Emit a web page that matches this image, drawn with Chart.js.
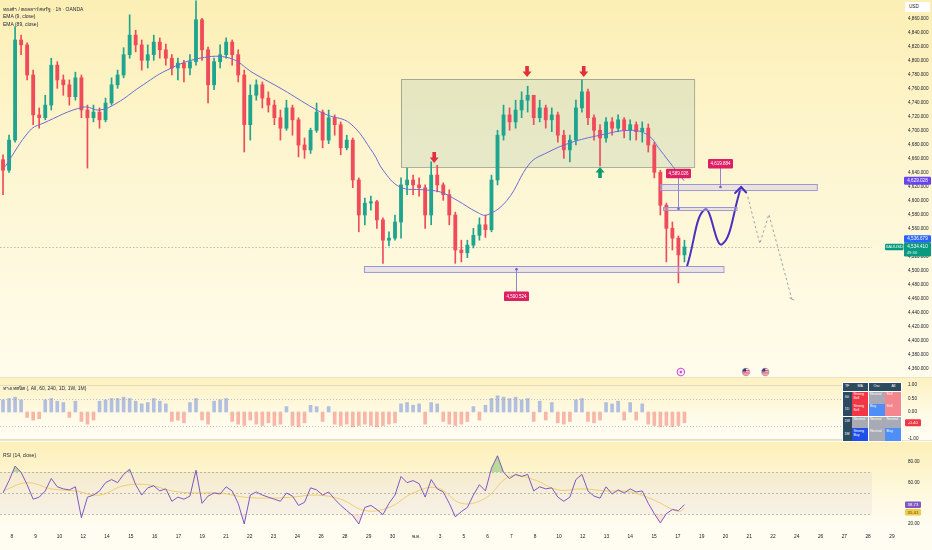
<!DOCTYPE html>
<html><head><meta charset="utf-8">
<script src="https://cdn.jsdelivr.net/npm/chart.js@4.4.1/dist/chart.umd.min.js"></script>
<style>
html,body{margin:0;padding:0;}
body{width:932px;height:550px;overflow:hidden;position:relative;background:#fffdf0;font-family:"Liberation Sans","Noto Sans","DejaVu Sans",sans-serif;color:#131722;}
.pane{position:absolute;left:0;width:932px;}
#p1{top:0;height:377px;background:linear-gradient(180deg,#fcefb5 0%,#fdf5cf 40%,#fffcec 100%);}
#p2{top:377px;height:65px;background:linear-gradient(180deg,#fcf1c0 0%,#fffbe8 60%,#fffdf4 100%);}
#p3{top:442px;height:108px;background:linear-gradient(180deg,#fcefb8 0%,#fef8dc 45%,#fffdf2 80%,#fffdf2 100%);}
.sep{position:absolute;left:0;width:932px;height:1px;background:#ebe3c3;}
.t{position:absolute;font-size:5px;white-space:nowrap;line-height:1;color:#1e222d;}
#usd{position:absolute;left:905px;top:2px;width:25px;height:10px;background:#fff;font-size:4.6px;line-height:10px;text-indent:4px;color:#131722;}
#tbl{position:absolute;left:842px;top:382px;display:grid;grid-template-columns:9px 16px 16px 16px;grid-template-rows:8.5px 12px 12px 11px 12.5px;gap:0.6px;background:#fff;padding:0.6px;}
.c{font-size:3.6px;color:#fff;display:flex;align-items:flex-start;justify-content:flex-start;padding:1.2px 0 0 1.2px;line-height:1.1;box-sizing:border-box;}
.h{background:#2d4b5f;justify-content:center;align-items:center;padding:0;}
.ss{background:#f23645;}
.se{background:#f4878e;}
.nu{background:#a8abb5;}
.bu{background:#4f8ef7;}
.sb{background:#1f4fe6;}
</style></head>
<body>
<div class="pane" id="p1"><canvas id="c1"></canvas></div>
<div class="pane" id="p2"><canvas id="c2"></canvas></div>
<div class="pane" id="p3"><canvas id="c3"></canvas></div>
<div class="sep" style="top:377px"></div>
<div class="sep" style="top:440px"></div>

<div class="t" style="left:3px;top:6.5px">ทองคำ / ดอลลาร์สหรัฐ · 1h · OANDA</div>
<div class="t" style="left:3px;top:14px">EMA (9, close)</div>
<div class="t" style="left:3px;top:22px">EMA (89, close)</div>
<div id="usd">USD</div>
<div class="t" style="left:3px;top:386px">ทางเทคนิค (, All, 60, 240, 1D, 1W, 1M)</div>
<div class="t" style="left:3px;top:452.5px">RSI (14, close)</div>

<div id="tbl">
 <div class="c h">TF</div><div class="c h">MA</div><div class="c h">Osc</div><div class="c h">All</div>
 <div class="c h">60</div><div class="c ss">Strong<br>Sell</div><div class="c nu">Neutral</div><div class="c se">Sell</div>
 <div class="c h">1D</div><div class="c ss">Strong<br>Sell</div><div class="c bu">Buy</div><div class="c se">Sell</div>
 <div class="c h">1W</div><div class="c nu">Neutral</div><div class="c nu">Neutral</div><div class="c nu">Neutral</div>
 <div class="c h">1M</div><div class="c sb">Strong<br>Buy</div><div class="c nu">Neutral</div><div class="c bu">Buy</div>
</div>

<script>
// ---------------- DATA ----------------
const xLabels = ['8','9','10','12','14','15','16','17','19','21','22','23','24','26','28','29','30','พ.ค.','3','5','6','7','8','10','12','13','14','15','17','19','20','21','22','24','26','27','28','29'];
const priceTicks = [4360,4380,4400,4420,4440,4460,4480,4500,4520,4540,4560,4580,4600,4620,4640,4660,4680,4700,4720,4740,4760,4780,4800,4820,4840,4860];
const techTicks = [1, 0.5, 0, -1];
const rsiTicks = [80, 60, 20];

const firstOpen = 4659;
const closes = [4644,4687,4830,4823,4780,4723,4719,4737,4794,4773,
 4766,4749,4776,4730,4719,4727,4716,4740,4766,4780,
 4809,4837,4823,4801,4809,4827,4816,4804,4790,4797,
 4790,4799,4859,4816,4766,4799,4809,4827,4809,4780,
 4709,4751,4766,4747,4737,4719,4704,4733,4716,4680,
 4673,4701,4727,4687,4719,4709,4676,4687,4630,4580,
 4597,4599,4573,4544,4547,4570,4623,4630,4623,4619,
 4580,4637,4623,4609,4580,4530,4526,4537,4551,4566,
 4559,4630,4694,4723,4713,4730,4744,4751,4719,4733,
 4716,4723,4694,4673,4687,4733,4756,4719,4701,4690,
 4713,4704,4716,4701,4709,4699,4704,4680,4641,4594,
 4561,4547,4523,4534.41];
const highs = [4666,4694,4849,4837,4826,4787,4733,4751,4804,4799,
 4780,4773,4784,4780,4737,4737,4733,4747,4776,4787,
 4819,4866,4844,4830,4823,4837,4833,4824,4809,4804,
 4801,4809,4886,4861,4820,4804,4823,4833,4830,4816,
 4787,4766,4773,4770,4756,4744,4730,4744,4737,4719,
 4690,4704,4740,4730,4730,4723,4713,4694,4690,4633,
 4604,4607,4601,4576,4556,4580,4633,4647,4637,4633,
 4623,4656,4651,4626,4616,4584,4544,4544,4561,4576,
 4580,4637,4701,4737,4733,4744,4756,4764,4751,4744,
 4737,4733,4727,4701,4694,4744,4773,4760,4723,4709,
 4719,4719,4723,4719,4716,4713,4713,4710,4684,4644,
 4597,4570,4550,4544];
const lows = [4609,4641,4684,4809,4773,4709,4704,4716,4730,4761,
 4751,4737,4744,4719,4647,4713,4704,4713,4737,4761,
 4776,4804,4813,4787,4790,4801,4804,4794,4780,4773,
 4770,4780,4794,4801,4740,4759,4790,4804,4794,4770,
 4670,4687,4744,4733,4727,4709,4687,4701,4694,4663,
 4661,4668,4698,4676,4682,4694,4666,4673,4619,4556,
 4566,4587,4561,4511,4536,4544,4547,4609,4609,4607,
 4561,4566,4613,4601,4566,4511,4513,4519,4533,4544,
 4548,4556,4623,4687,4701,4704,4719,4727,4709,4713,
 4704,4699,4684,4661,4656,4680,4727,4709,4687,4650,
 4684,4694,4699,4690,4687,4687,4684,4670,4633,4580,
 4513,4530,4483,4513];

// EMA(89): [bar index, price]
const ema89 = [[0.83,4649],[4.98,4701],[7.13,4711],[13.76,4734],[16.58,4730],[19.40,4740],[23.22,4763],[27.69,4787],[33.17,4804],[38.14,4804],[41.96,4783],[46.93,4759],[51.91,4733],[54.23,4723],[58.04,4711],[61.86,4669],[63.52,4644],[66.33,4620],[70.15,4616],[72.97,4613],[75.79,4601],[79.10,4584],[80.76,4580],[84.08,4601],[87.89,4654],[90.71,4669],[94.53,4683],[99.50,4694],[104.48,4701],[107.46,4694],[109.45,4673],[111.61,4649],[113.43,4629.028]];

const techValues = [0.45,0.5,0.55,0.45,-0.2,-0.3,-0.25,0.45,0.5,0.4,
 0.35,-0.2,0.4,-0.35,-0.45,-0.3,0.4,0.45,0.5,0.5,
 0.55,0.5,0.4,0.3,0.35,0.5,0.4,0.3,-0.35,-0.3,
 -0.4,0.35,0.5,-0.3,-0.45,0.4,0.45,0.5,-0.35,-0.45,
 -0.5,-0.3,-0.45,-0.5,-0.4,-0.5,-0.45,0.2,-0.5,-0.55,
 -0.4,0.25,0.2,-0.35,0.2,-0.45,-0.5,-0.45,-0.55,-0.5,
 -0.45,-0.5,-0.55,-0.5,-0.45,-0.4,0.3,0.35,0.25,0.3,
 -0.45,0.35,0.3,-0.35,-0.45,-0.5,-0.45,-0.35,0.2,-0.3,
 0.25,0.5,0.6,0.55,0.5,0.55,0.45,0.5,-0.35,0.4,
 -0.3,0.35,-0.4,-0.45,-0.35,0.45,0.5,-0.35,-0.4,-0.3,
 0.35,0.3,0.4,-0.3,0.35,-0.3,0.3,-0.45,-0.5,-0.55,
 -0.5,-0.55,-0.5,-0.4];

const rsiValues = [50,62,76,70,58,44,46,52,64,56,
 54,53,56,26,46,48,52,60,63,60,
 68,73,58,48,55,57,52,54,42,46,
 44,47,72,40,47,50,49,56,52,40,
 20,48,51,48,46,44,42,50,47,38,
 41,55,53,48,51,44,38,33,28,20,
 36,38,34,29,40,48,66,60,62,59,
 46,63,54,51,40,27,32,36,48,58,
 52,74,86,70,64,68,66,68,52,56,
 54,55,46,42,46,63,68,52,47,45,
 56,49,53,50,54,51,52,40,30,21,
 30,34,33,38.73];
const rsiMA = [[0.5,52],[4.5,60],[8.5,54],[12.5,52],[16.5,48],[20.5,57],[24.5,58],[28.5,52],[32.5,50],[36.5,50],[40.5,46],[44.5,45],[48.5,46],[52.5,48],[56.5,44],[60.5,33],[64.5,36],[68.5,50],[72.5,55],[76.5,40],[80.5,45],[84.5,66],[88.5,63],[92.5,53],[96.5,54],[100.5,52],[104.5,51],[108.5,43],[112.5,32],[113.5,35.41]];

const lastPrice = 4534.41;
const lastEma9 = 4536.679;
const lastEma89 = 4629.028;
const lastTech = -0.40;
const lastRsi = 38.73;
const lastRsiMA = 35.41;

// drawings on the chart (bar index, price)
const projUp = [[113.9,4506],[116.9,4588],[119.7,4538],[122.9,4620]];
const projDown = [[124.0,4606],[126.0,4539],[127.5,4581],[131.3,4460]];

// ---------------- SETUP ----------------
Chart.defaults.font.family = '"Liberation Sans", Arial, sans-serif';
Chart.defaults.animation = false;
const X_MAX = 144.6;
const X_LABEL0 = 1.973, X_LABEL_STEP = 3.944;
const UP = '#1fa58f', DN = '#ef4b5a';
const opens = closes.map((c, i) => i === 0 ? firstOpen : closes[i - 1]);
const candleColor = i => closes[i] >= opens[i] ? UP : DN;
const fmt3 = v => v.toLocaleString('en-US', {minimumFractionDigits: 3, maximumFractionDigits: 3});
const fmt2 = v => v.toFixed(2);

function rr(ctx, x, y, w, h, r) {
  ctx.beginPath(); ctx.moveTo(x + r, y);
  ctx.arcTo(x + w, y, x + w, y + h, r); ctx.arcTo(x + w, y + h, x, y + h, r);
  ctx.arcTo(x, y + h, x, y, r); ctx.arcTo(x, y, x + w, y, r); ctx.closePath();
}
function tag(ctx, x, cy, w, h, bg, text, color, size) {
  rr(ctx, x, cy - h / 2, w, h, 1.2); ctx.fillStyle = bg; ctx.fill();
  ctx.fillStyle = color; ctx.font = size + 'px "Liberation Sans", Arial, sans-serif';
  ctx.textBaseline = 'middle'; ctx.textAlign = 'center';
  ctx.fillText(text, x + w / 2, cy + 0.3);
}
function yAxis(min, max, ticks, cb) {
  return {
    position: 'right', min, max,
    afterFit: s => { s.width = 60; s.paddingTop = 0; s.paddingBottom = 0; },
    afterBuildTicks: s => { s.ticks = ticks.map(v => ({value: v})); },
    grid: {display: false, drawTicks: false}, border: {display: false},
    ticks: {callback: cb, font: {size: 4.6}, color: '#131722', padding: 36}
  };
}
function xAxis(display) {
  const ax = {type: 'linear', min: 0, max: X_MAX, offset: false, display,
    grid: {display: false, drawTicks: false}, border: {display: false}};
  if (display) {
    ax.afterFit = s => { s.height = 22; s.paddingLeft = 0; s.paddingRight = 0; };
    ax.afterBuildTicks = s => { s.ticks = xLabels.map((_, k) => ({value: X_LABEL0 + k * X_LABEL_STEP})); };
    ax.ticks = {autoSkip: false, maxRotation: 0, minRotation: 0, padding: 6,
      callback: (v, i) => xLabels[i], font: {size: 4.8}, color: '#131722'};
  }
  return ax;
}
const baseOpts = {responsive: true, maintainAspectRatio: false, events: [],
  layout: {padding: 0}, plugins: {legend: {display: false}, tooltip: {enabled: false}}};

// ---------------- MAIN CHART ----------------
const mainAnno = {
  id: 'mainAnno',
  beforeDatasetsDraw(chart) {
    const {ctx, scales: {x, y}, chartArea: ca} = chart;
    const X = v => x.getPixelForValue(v), Y = v => y.getPixelForValue(v);
    ctx.save();
    const bx0 = X(66.5), bx1 = X(115.1), by0 = Y(4774.3), by1 = Y(4648.6);
    ctx.fillStyle = 'rgba(188,212,186,0.36)';
    ctx.fillRect(bx0, by0, bx1 - bx0, by1 - by0);
    ctx.strokeStyle = 'rgba(120,128,118,0.6)'; ctx.lineWidth = 1;
    ctx.strokeRect(Math.round(bx0) + 0.5, Math.round(by0) + 0.5, bx1 - bx0, by1 - by0);
    ctx.setLineDash([1.5, 2]); ctx.strokeStyle = 'rgba(110,130,120,0.5)';
    const py = Math.round(Y(lastPrice)) + 0.5;
    ctx.beginPath(); ctx.moveTo(ca.left, py); ctx.lineTo(ca.right, py); ctx.stroke();
    ctx.restore();
  },
  afterDatasetsDraw(chart) {
    const {ctx, scales: {x, y}, chartArea: ca} = chart;
    const X = v => x.getPixelForValue(v), Y = v => y.getPixelForValue(v);
    ctx.save();
    const bands = [[60.3, 119.9, 4498.6, 4507.1], [109.5, 135.5, 4615.7, 4624.3], [110.0, 122.2, 4587.1, 4591.4]];
    bands.forEach(b => {
      const x0 = X(b[0]), x1 = X(b[1]), y0 = Y(b[3]), y1 = Y(b[2]);
      ctx.fillStyle = 'rgba(205,198,240,0.40)'; ctx.fillRect(x0, y0, x1 - x0, y1 - y0);
      ctx.strokeStyle = 'rgba(150,142,208,0.9)'; ctx.lineWidth = 1;
      ctx.strokeRect(Math.round(x0) + 0.5, Math.round(y0) + 0.5, x1 - x0, Math.max(1, y1 - y0));
    });
    const labs = [
      {ix: 85.5, from: 4502.5, ly: 4463.8, text: '4,500.524'},
      {ix: 119.4, from: 4619.9, ly: 4653.3, text: '4,619.884'},
      {ix: 112.4, from: 4589.0, ly: 4639.3, text: '4,589.026'}
    ];
    labs.forEach(l => {
      const lx = Math.round(X(l.ix)) + 0.5, y0 = Y(l.from), y1 = Y(l.ly);
      ctx.strokeStyle = '#8e86d4'; ctx.lineWidth = 1;
      ctx.beginPath(); ctx.moveTo(lx, y0); ctx.lineTo(lx, y1); ctx.stroke();
      ctx.fillStyle = '#6b5fd6'; ctx.beginPath(); ctx.arc(lx, y0, 1.3, 0, Math.PI * 2); ctx.fill();
      tag(ctx, lx - 12.5, y1, 25, 9.5, '#dd1f63', l.text, '#fff', 4.5);
    });
    const arrow = (ix, tipP, dir, color) => {
      const tx = X(ix), ty = Y(tipP), s = dir === 'down' ? -1 : 1;
      ctx.fillStyle = color; ctx.beginPath();
      ctx.moveTo(tx, ty); ctx.lineTo(tx - 4.5, ty + s * 5.5); ctx.lineTo(tx - 1.8, ty + s * 5.5);
      ctx.lineTo(tx - 1.8, ty + s * 11); ctx.lineTo(tx + 1.8, ty + s * 11); ctx.lineTo(tx + 1.8, ty + s * 5.5);
      ctx.lineTo(tx + 4.5, ty + s * 5.5);
      ctx.closePath(); ctx.fill();
    };
    arrow(72.0, 4654.3, 'down', '#e0303e');
    arrow(87.4, 4777.0, 'down', '#e0303e');
    arrow(96.8, 4777.0, 'down', '#e0303e');
    arrow(99.5, 4648.6, 'up', '#0b9a72');
    const tp = projUp[projUp.length - 1];
    const hx = X(tp[0]), hy = Y(tp[1]);
    ctx.strokeStyle = '#4b2fc0'; ctx.lineWidth = 2; ctx.lineCap = 'round';
    ctx.beginPath(); ctx.moveTo(hx - 6, hy + 6); ctx.lineTo(hx, hy); ctx.lineTo(hx + 5, hy + 5.5); ctx.stroke();
    const dp = projDown[projDown.length - 1];
    ctx.strokeStyle = '#9ea1ab'; ctx.lineWidth = 1;
    ctx.beginPath(); ctx.moveTo(X(dp[0]) - 2, Y(dp[1]) - 1); ctx.lineTo(X(dp[0]) + 2, Y(dp[1]) + 1); ctx.stroke();
    const iy = ca.bottom - 5;
    const ex = X(112.9);
    ctx.fillStyle = '#f6e6f7'; ctx.strokeStyle = '#c24fd3'; ctx.lineWidth = 1;
    ctx.beginPath(); ctx.arc(ex, iy, 3.8, 0, Math.PI * 2); ctx.fill(); ctx.stroke();
    ctx.fillStyle = '#c24fd3'; ctx.beginPath(); ctx.arc(ex, iy, 1.2, 0, Math.PI * 2); ctx.fill();
    [123.7, 126.9].forEach(ix => {
      const fx = X(ix);
      ctx.save(); ctx.beginPath(); ctx.arc(fx, iy, 3.8, 0, Math.PI * 2); ctx.clip();
      ctx.fillStyle = '#fff'; ctx.fillRect(fx - 4, iy - 4, 8, 8);
      ctx.fillStyle = '#d7263d';
      for (let k = 0; k < 4; k++) ctx.fillRect(fx - 4, iy - 4 + k * 2.2, 8, 1.1);
      ctx.fillStyle = '#2b3a8c'; ctx.fillRect(fx - 4, iy - 4, 4, 3.6);
      ctx.restore();
      ctx.strokeStyle = 'rgba(150,150,170,0.8)'; ctx.lineWidth = 0.6;
      ctx.beginPath(); ctx.arc(fx, iy, 3.8, 0, Math.PI * 2); ctx.stroke();
    });
    ctx.restore();
  },
  afterDraw(chart) {
    const {ctx, scales: {y}} = chart;
    const yc = y.getPixelForValue(lastPrice);
    ctx.save();
    tag(ctx, 904, y.getPixelForValue(lastEma89), 27, 8, '#6744ee', fmt3(lastEma89), '#fff', 4.6);
    tag(ctx, 904, yc - 8, 27, 7.5, '#2962ff', fmt3(lastEma9), '#fff', 4.6);
    rr(ctx, 904, yc - 4.3, 27, 13.8, 1.2); ctx.fillStyle = '#089981'; ctx.fill();
    ctx.fillStyle = '#fff'; ctx.font = '4.6px "Liberation Sans", Arial, sans-serif';
    ctx.textAlign = 'center'; ctx.textBaseline = 'middle';
    ctx.fillText(fmt3(lastPrice), 917.5, yc + 0.2);
    ctx.fillStyle = 'rgba(255,255,255,0.85)'; ctx.font = '4.2px "Liberation Sans", Arial, sans-serif';
    ctx.fillText('49:30', 912, yc + 6.2);
    tag(ctx, 885, yc, 18.5, 6.5, '#089981', 'XAUUSD', '#fff', 4.2);
    ctx.restore();
  }
};

new Chart(document.getElementById('c1'), {
  type: 'bar',
  data: {datasets: [
    {type: 'line', data: ema89.map(p => ({x: p[0], y: p[1]})), borderColor: '#6d6ad8', borderWidth: 1, pointRadius: 0, tension: 0.4, order: 0},
    {type: 'line', data: projUp.map(p => ({x: p[0], y: p[1]})), borderColor: '#4b2fc0', borderWidth: 2, pointRadius: 0, tension: 0.45, order: 0},
    {type: 'line', data: projDown.map(p => ({x: p[0], y: p[1]})), borderColor: '#9ea1ab', borderWidth: 1, borderDash: [2.5, 2.5], pointRadius: 0, tension: 0, order: 0},
    {data: closes.map((c, i) => ({x: i + 0.5, y: [opens[i], c]})), backgroundColor: c => candleColor(c.dataIndex), barThickness: 3.2, minBarLength: 1, grouped: false, borderWidth: 0, order: 1},
    {data: closes.map((c, i) => ({x: i + 0.5, y: [lows[i], highs[i]]})), backgroundColor: c => candleColor(c.dataIndex), barThickness: 1, grouped: false, borderWidth: 0, order: 2}
  ]},
  options: Object.assign({}, baseOpts, {
    scales: {x: xAxis(false), y: yAxis(4348.57, 4887.14, priceTicks, v => fmt3(v))}
  }),
  plugins: [mainAnno]
});

// ---------------- TECH RATING PANE ----------------
const techAnno = {
  id: 'techAnno',
  beforeDatasetsDraw(chart) {
    const {ctx, scales: {y}, chartArea: ca} = chart;
    ctx.save(); ctx.lineWidth = 1;
    [1, -1].forEach(v => { const py = Math.round(y.getPixelForValue(v)) + 0.5; ctx.strokeStyle = 'rgba(215,208,178,0.7)'; ctx.beginPath(); ctx.moveTo(ca.left, py); ctx.lineTo(ca.right, py); ctx.stroke(); });
    ctx.setLineDash([1, 2]);
    [0.5, -0.5].forEach(v => { const py = Math.round(y.getPixelForValue(v)) + 0.5; ctx.strokeStyle = 'rgba(150,150,160,0.55)'; ctx.beginPath(); ctx.moveTo(ca.left, py); ctx.lineTo(ca.right, py); ctx.stroke(); });
    ctx.restore();
  },
  afterDraw(chart) {
    const {ctx, scales: {y}} = chart;
    ctx.save(); tag(ctx, 905, y.getPixelForValue(lastTech), 16, 7, '#f23645', fmt2(lastTech), '#fff', 4.3); ctx.restore();
  }
};
new Chart(document.getElementById('c2'), {
  type: 'bar',
  data: {datasets: [{
    data: techValues.map((v, i) => ({x: i + 0.5, y: v})),
    backgroundColor: c => (techValues[c.dataIndex] >= 0 ? 'rgba(108,138,226,0.52)' : 'rgba(240,118,108,0.52)'),
    barThickness: 3, borderWidth: 0
  }]},
  options: Object.assign({}, baseOpts, {
    scales: {x: xAxis(false), y: yAxis(-1.1111, 1.2963, techTicks, v => fmt2(v))}
  }),
  plugins: [techAnno]
});

// ---------------- RSI PANE ----------------
const rsiAnno = {
  id: 'rsiAnno',
  beforeDatasetsDraw(chart) {
    const {ctx, scales: {y}, chartArea: ca} = chart;
    ctx.save();
    const y70 = y.getPixelForValue(70), y30 = y.getPixelForValue(30);
    ctx.fillStyle = 'rgba(150,130,190,0.08)'; ctx.fillRect(ca.left, y70, ca.right - ca.left, y30 - y70);
    ctx.setLineDash([2, 2]); ctx.strokeStyle = 'rgba(120,123,134,0.6)'; ctx.lineWidth = 0.8;
    [70, 50, 30].forEach(v => { const py = Math.round(y.getPixelForValue(v)) + 0.5; ctx.beginPath(); ctx.moveTo(ca.left, py); ctx.lineTo(ca.right, py); ctx.stroke(); });
    ctx.restore();
  },
  afterDraw(chart) {
    const {ctx, scales: {y}} = chart;
    ctx.save();
    tag(ctx, 905, y.getPixelForValue(lastRsi), 16, 6.5, '#7e57c2', fmt2(lastRsi), '#fff', 4.3);
    tag(ctx, 905, y.getPixelForValue(lastRsi) + 7.5, 16, 6.5, '#f2c94c', fmt2(lastRsiMA), '#5a4a10', 4.3);
    ctx.restore();
  }
};
const rsiPts = rsiValues.map((v, i) => ({x: i + 0.5, y: v}));
new Chart(document.getElementById('c3'), {
  type: 'line',
  data: {datasets: [
    {data: rsiPts, borderColor: '#7e57c2', borderWidth: 1, pointRadius: 0, tension: 0,
     fill: {target: {value: 70}, above: 'rgba(76,175,80,0.38)', below: 'rgba(0,0,0,0)'}},
    {data: rsiPts, borderColor: 'rgba(0,0,0,0)', borderWidth: 0, pointRadius: 0, tension: 0,
     fill: {target: {value: 30}, above: 'rgba(0,0,0,0)', below: 'rgba(242,54,69,0.12)'}},
    {data: rsiMA.map(p => ({x: p[0], y: p[1]})), borderColor: 'rgba(236,192,60,0.7)', borderWidth: 1, pointRadius: 0, tension: 0.4, fill: false}
  ]},
  options: Object.assign({}, baseOpts, {
    scales: {x: xAxis(true), y: yAxis(16.13, 99.35, rsiTicks, v => fmt2(v))}
  }),
  plugins: [rsiAnno]
});
</script>
</body></html>
